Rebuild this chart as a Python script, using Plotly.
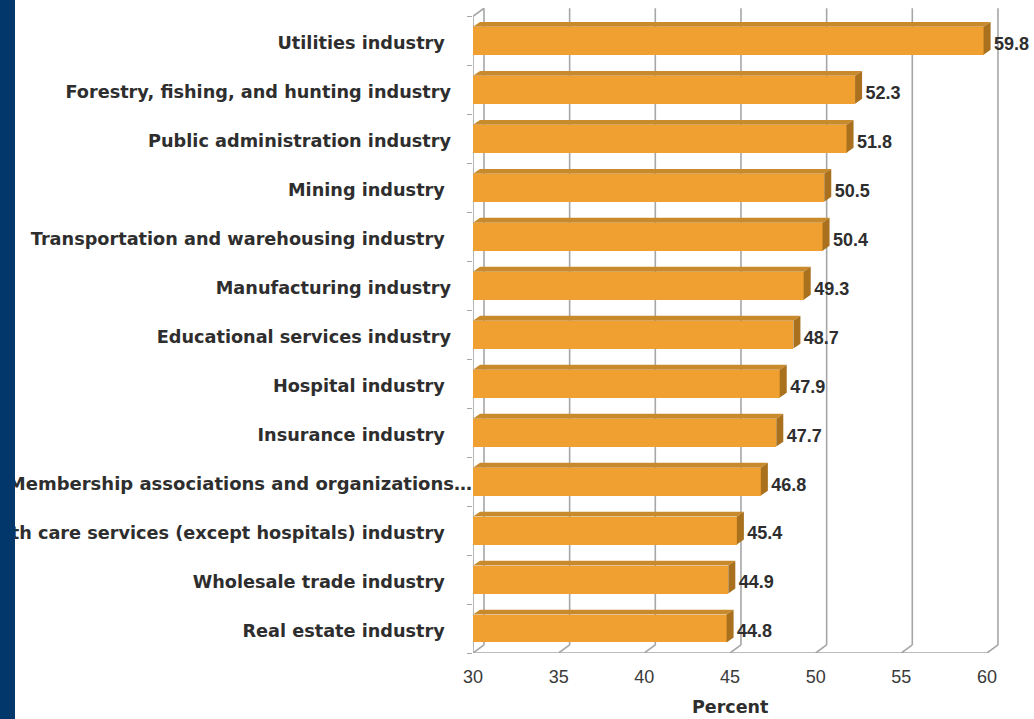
import plotly.graph_objects as go

# Industries, top to bottom, with their percentages
categories = [
    "Utilities industry",
    "Forestry, fishing, and hunting industry",
    "Public administration industry",
    "Mining industry",
    "Transportation and warehousing industry",
    "Manufacturing industry",
    "Educational services industry",
    "Hospital industry",
    "Insurance industry",
    "Membership associations and organizations\u2026",
    "Health care services (except hospitals) industry",
    "Wholesale trade industry",
    "Real estate industry",
]
values = [59.8, 52.3, 51.8, 50.5, 50.4, 49.3, 48.7, 47.9, 47.7, 46.8, 45.4, 44.9, 44.8]
# labels that carry a trailing space in the source chart
trailing_space = [True, False, False, True, True, False, False, True, True, False, True, True, True]
x_ticks = [30, 35, 40, 45, 50, 55, 60]

X0, X1 = 30, 60
WALL_DX, WALL_DY = 0.64, 0.165   # depth of the back wall in axis units
BAR_DX, BAR_DY = 0.41, 0.10      # depth of each bar
BAR_W = 0.57

FRONT = "#F0A030"
TOP = "#C98A2C"
SIDE = "#A9701E"
GRID = "#A6A6A6"
TXT = "#2E2E2E"
LABEL_FONT = dict(family="DejaVu Sans", size=17.7, color=TXT, weight="bold")

n = len(categories)
pos = [n - 1 - i for i in range(n)]
ylo, yhi = -0.5, n - 0.5

shapes = []
def seg(xa, ya, xb, yb, layer="below"):
    shapes.append(dict(type="line", xref="x", yref="y", x0=xa, y0=ya, x1=xb, y1=yb,
                       line=dict(color=GRID, width=1.6), layer=layer))

# back wall gridlines with their floor diagonals
for t in x_ticks:
    seg(t + WALL_DX, ylo + WALL_DY, t + WALL_DX, yhi + WALL_DY)
    seg(t, ylo, t + WALL_DX, ylo + WALL_DY)
# front left wall edge and top diagonal
seg(X0, ylo, X0, yhi)
seg(X0, yhi, X0 + WALL_DX, yhi + WALL_DY)
# front floor edge
seg(X0 - 0.9, ylo, X1, ylo)

# navy strip along the left edge of the page
shapes.append(dict(type="rect", xref="paper", yref="paper", x0=-0.95, x1=(15 - 473) / 526,
                   y0=-0.2, y1=1.05, fillcolor="#01376B", line=dict(width=0), layer="above"))

fig = go.Figure()

# front faces of the bars
fig.add_trace(go.Bar(
    y=pos, x=[v - X0 for v in values], base=[X0] * n, orientation="h",
    width=BAR_W, marker=dict(color=FRONT, line=dict(width=0)), showlegend=False,
    hoverinfo="skip",
))

# top and side faces
top_x, top_y, side_x, side_y = [], [], [], []
for p, v in zip(pos, values):
    yt, yb = p + BAR_W / 2, p - BAR_W / 2
    top_x += [X0, v, v + BAR_DX, X0 + BAR_DX, X0, None]
    top_y += [yt, yt, yt + BAR_DY, yt + BAR_DY, yt, None]
    side_x += [v, v, v + BAR_DX, v + BAR_DX, v, None]
    side_y += [yb, yt, yt + BAR_DY, yb + BAR_DY, yb, None]
fig.add_trace(go.Scatter(x=top_x, y=top_y, fill="toself", fillcolor=TOP, mode="lines",
                         line=dict(width=0), showlegend=False, hoverinfo="skip"))
fig.add_trace(go.Scatter(x=side_x, y=side_y, fill="toself", fillcolor=SIDE, mode="lines",
                         line=dict(width=0), showlegend=False, hoverinfo="skip"))

# value labels
fig.add_trace(go.Scatter(
    x=[v + BAR_DX + 0.2 for v in values], y=[p - 0.09 for p in pos], mode="text",
    text=[f"{v:.1f}" for v in values], textposition="middle right",
    textfont=dict(family="Liberation Sans", size=18, color=TXT, weight="bold"),
    cliponaxis=False, showlegend=False, hoverinfo="skip",
))

tick_text = [c + ("\u00a0" if s else "") for c, s in zip(categories, trailing_space)]
memb = categories.index("Membership associations and organizations\u2026")
main_vals = [p - 0.05 for i, p in enumerate(pos) if i != memb]
main_text = [t for i, t in enumerate(tick_text) if i != memb]

fig.update_layout(
    width=1034, height=719,
    margin=dict(l=473, r=35, t=8, b=66, autoexpand=False),
    paper_bgcolor="white", plot_bgcolor="white",
    shapes=shapes,
    bargap=0,
    xaxis=dict(range=[X0, X1 + 0.7], tickvals=x_ticks, ticktext=[str(t) for t in x_ticks],
               showgrid=False, zeroline=False, showline=False, ticks="", automargin=False,
               ticklabelstandoff=11,
               tickfont=dict(family="Liberation Sans", size=18, color="#3A3A3A")),
    yaxis=dict(range=[ylo, yhi + 0.17], tickvals=main_vals, ticktext=main_text,
               showgrid=False, zeroline=False, showline=False, ticks="", automargin=False,
               ticklabelstandoff=21, tickfont=LABEL_FONT,
               minor=dict(tickvals=[k - 0.5 for k in range(n + 1)], ticks="outside",
                          ticklen=5, tickcolor=GRID, tickwidth=1.4, showgrid=False)),
    yaxis2=dict(range=[ylo, yhi + 0.17], overlaying="y", side="left", anchor="x",
                tickvals=[pos[memb] - 0.05], ticktext=[tick_text[memb]],
                showgrid=False, zeroline=False, showline=False, ticks="", automargin=False,
                ticklabelstandoff=0, tickfont={**LABEL_FONT, "size": 18}),
    annotations=[dict(text="Percent", xref="x", yref="paper", x=(X0 + X1) / 2, y=-0.083,
                      xanchor="center", yanchor="middle", showarrow=False,
                      font=dict(family="DejaVu Sans", size=17.5, color=TXT, weight="bold"))],
)
# placeholder trace so the second y axis is drawn
fig.add_trace(go.Scatter(x=[None], y=[None], yaxis="y2", showlegend=False, hoverinfo="skip"))

fig.write_html("out.html")
